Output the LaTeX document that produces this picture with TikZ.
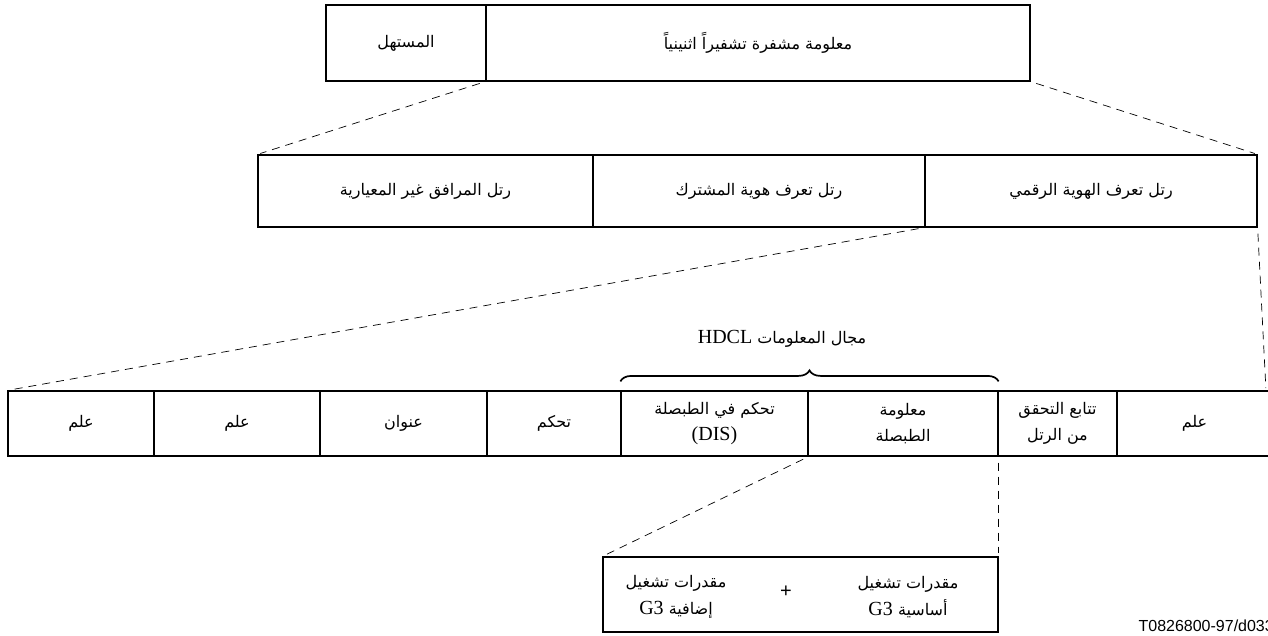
\documentclass[tikz,border=0pt]{standalone}
\usepackage{fontspec}
\setmainfont{Liberation Serif}
\newfontfamily\arabicfont[Script=Arabic]{DejaVu Sans}
\newfontfamily\codefont{Liberation Sans}
\TeXXeTstate=1
\usetikzlibrary{decorations.pathreplacing}
% Arabic text run, right to left
\newcommand{\artxt}[1]{{\arabicfont\beginR #1\endR}}
% Latin run inside Arabic text
\newcommand{\lat}[1]{\beginL{\rmfamily\fontsize{20}{24}\selectfont #1}\endL}

\begin{document}
\begin{tikzpicture}[x=1pt,y=-1pt,
  box/.style={draw,line width=1.2pt,inner sep=0pt,align=center,
    font=\fontsize{16}{26}\selectfont},
  plain/.style={inner sep=0pt,align=center,font=\fontsize{16}{27}\selectfont},
  zoomline/.style={line width=0.7pt,dash pattern=on 8pt off 6pt,
    shorten <=6pt,shorten >=3pt},
  bracestyle/.style={decorate,decoration={brace,amplitude=11pt,aspect=0.5},
    line width=1.7pt},
]
\useasboundingbox (0,0) rectangle (1268,635);

% frame
\node[box,minimum width=160,minimum height=76] (pre) at (406,43) {\artxt{المستهل}};
\node[box,minimum width=544,minimum height=76] (enc) at (758,43) {\artxt{معلومة مشفرة تشفيراً اثنينياً}};

% frame types
\node[box,minimum width=335,minimum height=72] (nsf) at (425.5,191) {\artxt{رتل المرافق غير المعيارية}};
\node[box,minimum width=332,minimum height=72] (csi) at (759,191) {\artxt{رتل تعرف هوية المشترك}};
\node[box,minimum width=332,minimum height=72] (dig) at (1091,191) {\artxt{رتل تعرف الهوية الرقمي}};

% HDLC fields
\node[box,minimum width=146,minimum height=65] (f1) at (81,423.5) {\artxt{علم}};
\node[box,minimum width=166,minimum height=65] (f2) at (237,423.5) {\artxt{علم}};
\node[box,minimum width=167,minimum height=65] (f3) at (403.5,423.5) {\artxt{عنوان}};
\node[box,minimum width=134,minimum height=65] (f4) at (554,423.5) {\artxt{تحكم}};
\node[box,minimum width=187,minimum height=65] (f5) at (714.5,423.5) {\artxt{تحكم في الطبصلة}\\{\fontsize{20}{24}\selectfont (DIS)}};
\node[box,minimum width=190,minimum height=65] (f6) at (903,423.5) {\artxt{معلومة}\\\artxt{الطبصلة}};
\node[box,minimum width=119,minimum height=65] (f7) at (1057.5,423.5) {\artxt{تتابع التحقق}\\\artxt{من الرتل}};
\node[box,minimum width=155,minimum height=65] (f8) at (1194.5,423.5) {\artxt{علم}};
\coordinate (rowend) at (1266,391);

% information field brace
\draw[bracestyle] ([yshift=9pt]f5.north west) -- ([yshift=9pt]f6.north east);
\node[plain] (hdlc) at (782,339) {\artxt{مجال المعلومات \lat{HDCL}}};

% G3 capabilities
\node[box,minimum width=395,minimum height=75] (caps) at (800.5,594.5) {};
\node[plain] (capadd) at (676,597) {\artxt{مقدرات تشغيل}\\\artxt{إضافية \lat{G3}}};
\node[plain,font=\codefont\fontsize{20}{22}\selectfont] (plus) at (786,592) {+};
\node[plain] (capbas) at (908,597) {\artxt{مقدرات تشغيل}\\\artxt{أساسية \lat{G3}}};

% zoom lines
\draw[zoomline] (enc.south west) -- (nsf.north west);
\draw[zoomline] (enc.south east) -- (dig.north east);
\draw[zoomline] (dig.south west) -- (f1.north west);
\draw[zoomline] (dig.south east) -- (rowend);
\draw[zoomline] (f5.south east) -- (caps.north west);
\draw[zoomline] (f6.south east) -- (caps.north east);

\node[anchor=base east,inner sep=0pt,font=\codefont\fontsize{16}{16}\selectfont] (code) at (1274,631) {T0826800-97/d033};
\end{tikzpicture}
\end{document}
